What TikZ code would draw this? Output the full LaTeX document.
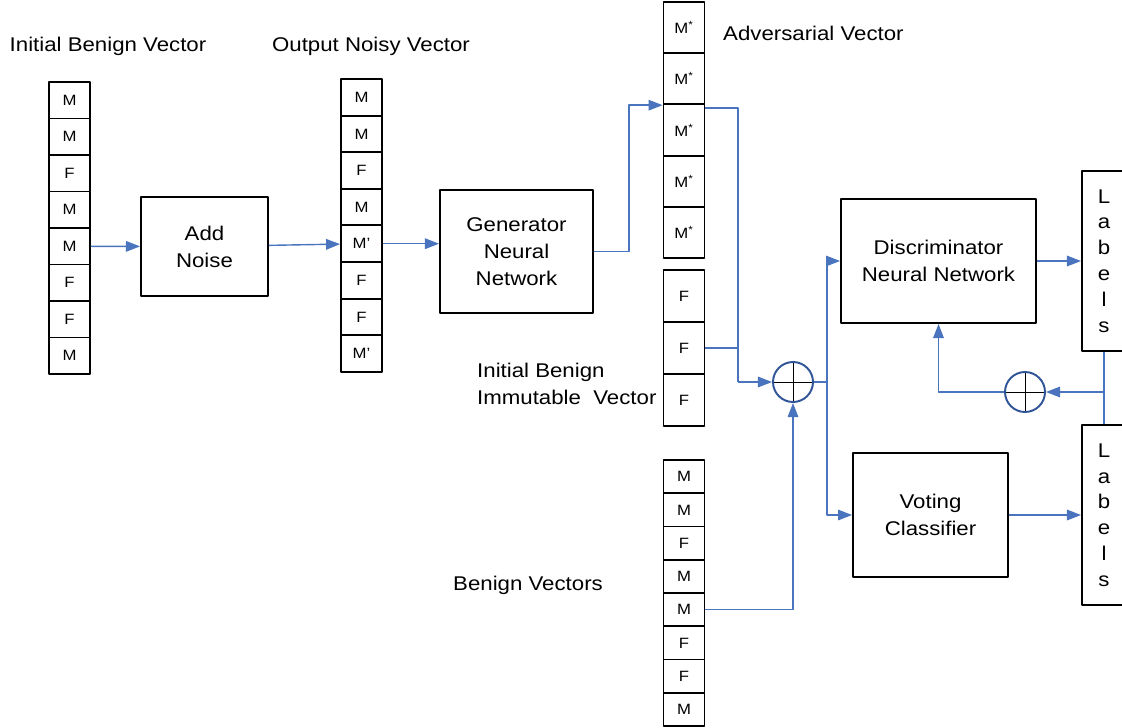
\documentclass[tikz,border=0pt]{standalone}
\usepackage{fontspec}
\setmainfont[FakeStretch=1.12]{Liberation Sans}
\usetikzlibrary{arrows.meta,calc}
\definecolor{linkblue}{HTML}{4A74BE}
\definecolor{sumblue}{HTML}{2F5597}
\tikzset{
  cell/.style={draw, line width=1pt, minimum width=0.82cm, inner sep=0pt, font=\fontsize{8.5}{10}\selectfont},
  blk/.style={draw, line width=1.1pt, align=center},
  lab/.style={draw, line width=1.1pt, minimum width=0.88cm, minimum height=3.6cm, align=center, font=\fontsize{11.3}{14.7}\selectfont},
  link/.style={linkblue, line width=0.8pt},
  sum/.style={circle, draw=sumblue, line width=1.1pt, minimum size=0.8cm, inner sep=0pt,
    path picture={\draw[black, line width=0.5pt] (path picture bounding box.north)--(path picture bounding box.south)
      (path picture bounding box.west)--(path picture bounding box.east);}}
}
\begin{document}
\begin{tikzpicture}[x=0.02cm, y=-0.02cm, font=\fontsize{11.3}{15.3}\selectfont, line join=round, >={Triangle[length=8pt,width=6pt]}]
 \useasboundingbox (0,0) rectangle (1122,727);
 % vectors
 \foreach \t [count=\i] in {M,M,F,M,M,F,F,M}
   \node[cell, minimum height=0.73cm] (ib\i) at (69.5,{82+36.5*(\i-0.5)}) {\t};
 \foreach \t [count=\i] in {M,M,F,M,M’,F,F,M’}
   \node[cell, minimum height=0.73cm] (nv\i) at (361.5,{79+36.6*(\i-0.5)}) {\t};
 \foreach \i in {1,...,5}
   \node[cell, minimum height=1.02cm] (adv\i) at (684,{2+51.2*(\i-0.5)}) {M\textsuperscript{*}};
 \foreach \i in {1,2,3}
   \node[cell, minimum height=1.04cm] (imv\i) at (684,{270+52*(\i-0.5)}) {F};
 \foreach \t [count=\i] in {M,M,F,M,M,F,F,M}
   \node[cell, minimum height=0.665cm] (bv\i) at (684,{460+33.25*(\i-0.5)}) {\t};
 % blocks
 \node[blk, minimum width=2.54cm, minimum height=1.98cm] (noise) at (204.5,246.5) {Add\\Noise};
 \node[blk, minimum width=3.06cm, minimum height=2.46cm] (gen) at (516.5,251.5) {Generator\\Neural\\Network};
 \node[blk, minimum width=3.9cm, minimum height=2.48cm] (disc) at (938.5,261) {Discriminator\\Neural Network};
 \node[blk, minimum width=3.1cm, minimum height=2.48cm] (vote) at (930.5,515) {Voting\\Classifier};
 \node[lab] (lab1) at (1104,261) {L\\a\\b\\e\\l\\s};
 \node[lab] (lab2) at (1104,515) {L\\a\\b\\e\\l\\s};
 \node[sum] (sum1) at (793,382) {};
 \node[sum] (sum2) at (1025,392) {};
 % titles
 \node (tib) at (108,46) {Initial Benign Vector};
 \node (tnv) at (371,46) {Output Noisy Vector};
 \node[anchor=west] (tadv) at (717,33) {Adversarial Vector};
 \node[anchor=west, align=left] (timv) at (471,384) {Initial Benign\\Immutable\ \ Vector};
 \node[anchor=west] (tbv) at (447,585) {Benign Vectors};
 % connectors
 \coordinate (split) at (738,382);
 \coordinate (fork) at (827,382);
 \draw[link,->] (ib5) -- (noise);
 \draw[link,->] (noise) -- (nv5);
 \draw[link,->] (nv5.east) -- (nv5.east -| gen.west);
 \draw[link,->] (gen.east) -- ++(35,0) |- (adv2.south west);
 \draw[link] ([yshift=-1.7pt]adv2.south east) -| (split);
 \draw[link] (imv2.east) -- (imv2.east -| split);
 \draw[link,->] (split) -- (sum1);
 \draw[link,->] (bv5.east) -| (sum1.south);
 \draw[link] (sum1) -- (fork);
 \draw[link,->] (fork) |- (disc.west);
 \draw[link,->] (fork) |- (vote.west);
 \draw[link,->] (disc) -- (lab1);
 \draw[link,->] (vote) -- (lab2);
 \draw[link] (lab1) -- (lab2);
 \draw[link,->] (lab1.south |- sum2) -- (sum2);
 \draw[link,->] (sum2) -| (disc.south);
\end{tikzpicture}
\end{document}
